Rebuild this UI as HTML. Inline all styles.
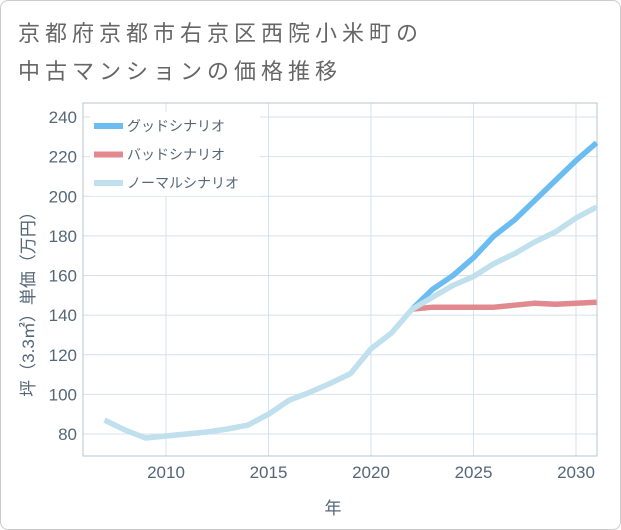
<!DOCTYPE html>
<html><head><meta charset="utf-8"><style>
body{margin:0;background:#fff;}
#wrap{position:relative;width:621px;height:530px;overflow:hidden;font-family:"Liberation Sans","Noto Sans CJK JP",sans-serif;}
#frame{position:absolute;left:0;top:0;width:619px;height:528px;border:1px solid #ccc;border-radius:8px;}
.t{position:absolute;left:18px;font-size:22px;letter-spacing:5px;color:#666;white-space:nowrap;}
</style></head><body>
<div id="wrap">
<div id="frame"></div>
<div class="t" style="top:16px">京都府京都市右京区西院小米町の</div>
<div class="t" style="top:54px">中古マンションの価格推移</div>
<svg id="chart" width="621" height="530" style="position:absolute;left:0;top:0"></svg>
</div>
<script>
const years=[2007,2008,2009,2010,2011,2012,2013,2014,2015,2016,2017,2018,2019,2020,2021,2022,2023,2024,2025,2026,2027,2028,2029,2030,2031];
const normalVals=[87,82,78,79,80,81,82.5,84.5,90,97,101,105.5,110.5,123,131,143,149,155,159.5,166,171,177,182,189,194.5];
const goodYears=[2022,2023,2024,2025,2026,2027,2028,2029,2030,2031];
const goodVals=[143,153,160,169,180,188,198,208,218,227];
const badVals=[143,144,144,144,144,145,146,145.5,146,146.5];
const yTicks=[80,100,120,140,160,180,200,220,240];
const xTicks=[2010,2015,2020,2025,2030];
const seriesNames=["グッドシナリオ","バッドシナリオ","ノーマルシナリオ"];
const NS="http://www.w3.org/2000/svg";
const svg=document.getElementById('chart');
const L=83,R=597,T=103,B=456;
const x=v=>166+(v-2010)*20.5;
const y=v=>434-(v-80)*(317/160);
function mk(t,a){const e=document.createElementNS(NS,t);for(const k in a)e.setAttribute(k,a[k]);svg.appendChild(e);return e;}
let e;
e=mk('rect',{x:L,y:T,width:R-L,height:B-T,fill:'#fff',stroke:'none'});


yTicks.forEach(v=>{
 e=mk('line',{x1:L,x2:R,y1:y(v),y2:y(v),stroke:'#d5e2ee','stroke-width':1});
 
 
 e=mk('text',{x:L-6,y:y(v)+6,'text-anchor':'end','font-size':17,fill:'#556677'});
 e.textContent=v;
 
 
});
xTicks.forEach(v=>{
 e=mk('line',{x1:x(v),x2:x(v),y1:T,y2:B,stroke:'#d5e2ee','stroke-width':1});
 
 
 e=mk('text',{x:x(v),y:B+22,'text-anchor':'middle','font-size':17,fill:'#556677'});
 e.textContent=v;
 
 
});
e=mk('rect',{x:L,y:T,width:R-L,height:B-T,fill:'none',stroke:'#b8c4cc','stroke-width':1});


function line(xs,vs,color,name){
 const p=xs.map((v,i)=>x(v).toFixed(1)+','+y(vs[i]).toFixed(1)).join(' ');
 const el=mk('polyline',{points:p,fill:'none',stroke:color,'stroke-width':5.5,'stroke-linejoin':'round'});
 
 
}
line(goodYears,badVals,'#e08a90','bad-scenario-line');
line(goodYears,goodVals,'#6bbcf0','good-scenario-line');
line(years,normalVals,'#bfe0ec','normal-scenario-line');
const lc=['#6bbcf0','#e08a90','#bfe0ec'];
e=mk('rect',{x:90,y:112,width:170,height:84,fill:'#fff'});


seriesNames.forEach((n,i)=>{
 const yy=126+i*28.5;
 e=mk('rect',{x:94,y:yy-3,width:29,height:6,fill:lc[i]});
 
 
 e=mk('text',{x:127,y:yy+5,'font-size':14,fill:'#556677'});
 e.textContent=n;
 
 
});
e=mk('text',{x:333,y:514,'text-anchor':'middle','font-size':17,fill:'#556677'});
e.textContent='年';


e=mk('text',{x:0,y:0,'text-anchor':'middle','font-size':17,fill:'#556677',transform:'translate(34,300) rotate(-90)'});
e.textContent='坪（3.3㎡）単価（万円）';


</script>
</body></html>
